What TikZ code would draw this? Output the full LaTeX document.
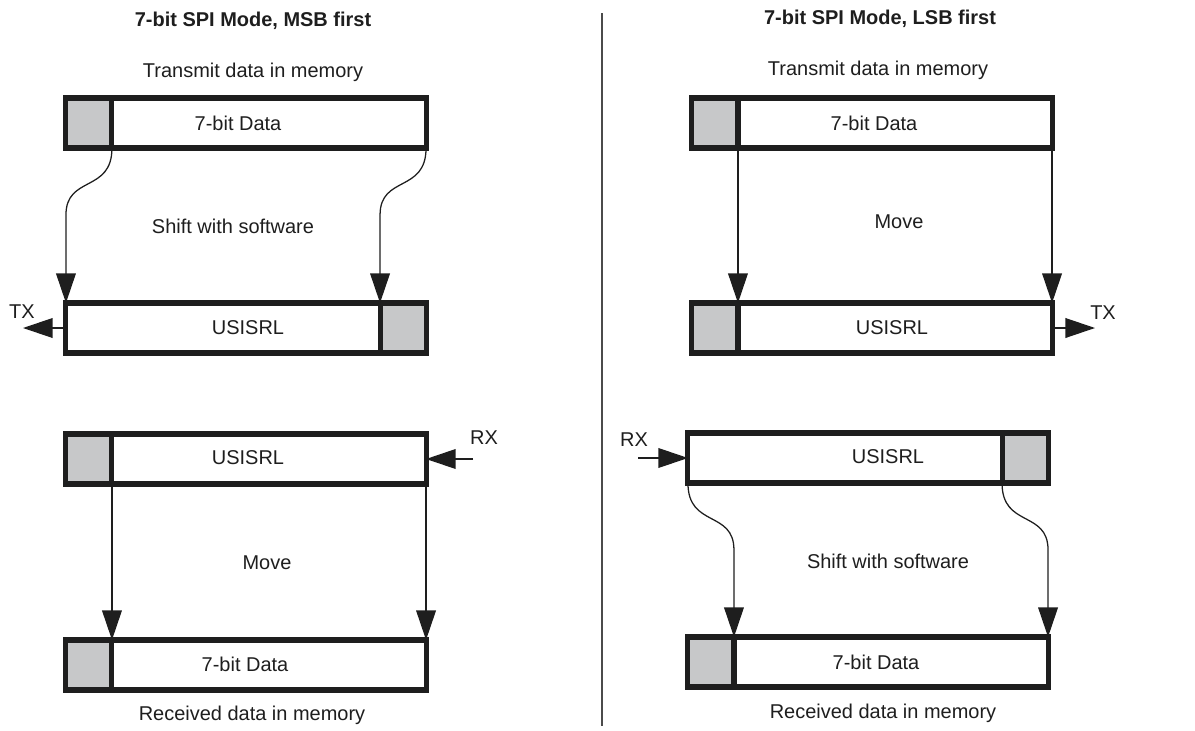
\documentclass[tikz,border=0pt]{standalone}
\usepackage{fontspec}
\setmainfont{Liberation Sans}
\usetikzlibrary{arrows.meta,calc}
\definecolor{cellgray}{RGB}{199,200,201}
\definecolor{ink}{RGB}{30,30,30}

\tikzset{
	reg/.style={draw=ink, line width=3.6pt, minimum width=9cm, minimum height=1.25cm, inner sep=0pt, outer sep=0pt},
	cell/.style={reg, fill=cellgray, minimum width=1.15cm},
	txt/.style={text=ink, inner sep=0pt, font=\fontsize{14.2}{16}\selectfont},
	hdr/.style={txt, font=\fontsize{14.2}{16}\selectfont\bfseries},
	flow/.style={draw=ink, line width=0.9pt, -{Triangle[length=21pt,width=14pt]}},
}

\begin{document}
\begin{tikzpicture}[x=0.025cm, y=-0.025cm]
		\useasboundingbox (0,0) rectangle (1195,730);
		
		%%%%% MSB FIRST %%%%%
		\node[hdr] (hmsb) at (253,21) {7-bit SPI Mode, MSB first};
		\node[txt] (lmsbtx) at (253,72) {Transmit data in memory};
		
		\node[reg] (memtx) at (246,123) {};
		\node[cell, anchor=west] (memtxc) at (memtx.west) {};
		\node[txt] (lmemtx) at (238,123) {7-bit Data};
		
		\node[txt] (lshift) at (233,226) {Shift with software};
		
		\node[reg] (srtx) at (246,328) {};
		\node[cell, anchor=east] (srtxc) at (srtx.east) {};
		\node[txt] (lsrtx) at (248,328) {USISRL};
		
		\draw[flow] (memtxc.south east) .. controls +(0,45) and +(0,-40) .. ++(-46,67) -- (srtx.north west);
		\draw[flow] (memtx.south east) .. controls +(0,45) and +(0,-40) .. ++(-46,67) -- (srtxc.north west);
		
		\coordinate (txl) at (23,328);
		\draw[flow] (srtx.west) -- (txl);
		\node[txt] (ltxl) at (22,312) {TX};
		
		\node[reg] (srrx) at (246,459) {};
		\node[cell, anchor=west] (srrxc) at (srrx.west) {};
		\node[txt] (lsrrx) at (248,458) {USISRL};
		
		\coordinate (rxl) at (473,459);
		\draw[flow] (rxl) -- (srrx.east);
		\node[txt] (lrxl) at (484,438) {RX};
		
		\node[txt] (lmove) at (267,563) {Move};
		
		\node[reg] (memrx) at (246,665) {};
		\node[cell, anchor=west] (memrxc) at (memrx.west) {};
		\node[txt] (lmemrx) at (245,664) {7-bit Data};
		
		\draw[flow] (srrxc.south east) -- (memrxc.north east);
		\draw[flow] (srrx.south east) -- (memrx.north east);
		
		\node[txt] (lmsbrx) at (252,715) {Received data in memory};
		
		%%%%% DIVIDER %%%%%
		\draw[ink!80, line width=1.4pt] (602,13) -- (602,726);
		
		%%%%% LSB FIRST %%%%%
		\node[hdr] (hlsb) at (880,19) {7-bit SPI Mode, LSB first};
		\node[txt] (llsbtx) at (878,70) {Transmit data in memory};
		
		\node[reg] (memtxb) at (872,123) {};
		\node[cell, anchor=west] (memtxbc) at (memtxb.west) {};
		\node[txt] (lmemtxb) at (874,123) {7-bit Data};
		
		\node[txt] (lmoveb) at (899,222) {Move};
		
		\node[reg] (srtxb) at (872,328) {};
		\node[cell, anchor=west] (srtxbc) at (srtxb.west) {};
		\node[txt] (lsrtxb) at (892,328) {USISRL};
		
		\draw[flow] (memtxbc.south east) -- (srtxbc.north east);
		\draw[flow] (memtxb.south east) -- (srtxb.north east);
		
		\coordinate (txr) at (1095,328);
		\draw[flow] (srtxb.east) -- (txr);
		\node[txt] (ltxr) at (1103,313) {TX};
		
		\node[reg] (srrxb) at (868,458) {};
		\node[cell, anchor=east] (srrxbc) at (srrxb.east) {};
		\node[txt] (lsrrxb) at (888,457) {USISRL};
		
		\coordinate (rxr) at (638,458);
		\draw[flow] (rxr) -- (srrxb.west);
		\node[txt] (lrxr) at (634,440) {RX};
		
		\node[txt] (lshiftb) at (888,561) {Shift with software};
		
		\node[reg] (memrxb) at (868,662) {};
		\node[cell, anchor=west] (memrxbc) at (memrxb.west) {};
		\node[txt] (lmemrxb) at (876,662) {7-bit Data};
		
		\draw[flow] (srrxb.south west) .. controls +(0,45) and +(0,-40) .. ++(46,67) -- (memrxbc.north east);
		\draw[flow] (srrxbc.south west) .. controls +(0,45) and +(0,-40) .. ++(46,67) -- (memrxb.north east);
		
		\node[txt] (llsbrx) at (883,713) {Received data in memory};
	\end{tikzpicture}
\end{document}
